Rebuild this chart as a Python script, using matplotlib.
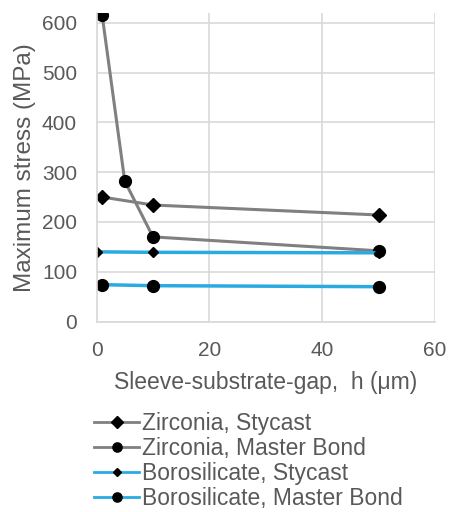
import matplotlib.pyplot as plt

plt.rcParams['font.family'] = ['Liberation Sans', 'DejaVu Sans']

gap_zs = [1, 10, 50]
stress_zs = [250, 234, 214]
gap_zm = [1, 5, 10, 50]
stress_zm = [615, 282, 170, 142]
gap_bs = [0, 10, 50]
stress_bs = [140, 139, 138]
gap_bm = [1, 10, 50]
stress_bm = [74, 72, 70]

labels = ["Zirconia, Stycast", "Zirconia, Master Bond",
          "Borosilicate, Stycast", "Borosilicate, Master Bond"]

gray = "#808080"
blue = "#29abe2"
txt = "#595959"

fig = plt.figure(figsize=(4.49, 5.12), dpi=100)
ax = fig.add_axes([0.215, 0.372, 0.754, 0.602])

ax.plot(gap_zs, stress_zs, c=gray, lw=2.2, marker="D", ms=7.5, mfc="black", mec="black", label=labels[0])
ax.plot(gap_zm, stress_zm, c=gray, lw=2.2, marker="o", ms=8.5, mfc="black", mec="black", label=labels[1])
ax.plot(gap_bs, stress_bs, c=blue, lw=2.5, marker="D", ms=5, mfc="black", mec="black", label=labels[2])
ax.plot(gap_bm, stress_bm, c=blue, lw=2.5, marker="o", ms=8.5, mfc="black", mec="black", label=labels[3])

ax.set_xlim(0, 60)
ax.set_ylim(0, 619)
ax.set_xticks([0, 20, 40, 60])
ax.set_yticks(range(0, 700, 100))
ax.grid(True, color="#d9d9d9", lw=1.2)
ax.set_axisbelow(True)
for s in ["top", "right"]:
    ax.spines[s].set_visible(False)
for s in ["left", "bottom"]:
    ax.spines[s].set_color("#d9d9d9")
    ax.spines[s].set_linewidth(1.2)
ax.tick_params(length=0, labelsize=15, colors=txt, pad=14)
ax.set_ylabel("Maximum stress (MPa)", fontsize=17.5, color=txt, labelpad=4)
ax.set_xlabel("Sleeve-substrate-gap,  h (\u03bcm)", fontsize=16.5, color=txt, labelpad=8)

leg = fig.legend(loc="upper left", bbox_to_anchor=(0.183, 0.217), frameon=False,
                 fontsize=16.5, handlelength=2.0, handletextpad=0.12,
                 labelspacing=0.08, borderpad=0, markerscale=0.78)
for t in leg.get_texts():
    t.set_color(txt)
for h in leg.legend_handles:
    h.set_linewidth(2)

fig.savefig("out.png", dpi=100)
